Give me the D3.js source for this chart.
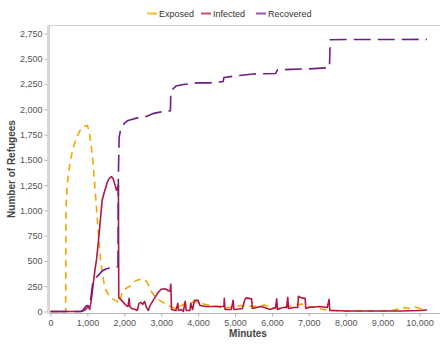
<!DOCTYPE html>
<html lang="en">
  <head>
    <meta charset="UTF-8">
    <script src="https://cdn.jsdelivr.net/npm/d3@7/dist/d3.min.js"></script>
    <title>Refugees</title>
    <style>
    body { margin: 0; background: #fff; }
    text { font-family: "Liberation Sans", Arial, sans-serif; }
    </style>
  </head>
  <body>
    <div id="chart"></div>
    <script>

// Series (minutes, refugees)
const exposedMin = [0, 300, 410, 420, 450, 520, 600, 700, 800, 900, 1000, 1050, 1100, 1150, 1200, 1250, 1300, 1350, 1400, 1450, 1500, 1600, 1700, 1800, 1850, 1900, 1950, 2050, 2150, 2250, 2350, 2450, 2550, 2620, 2700, 2800, 2900, 3000, 3100, 3200, 3300, 3400, 3500, 3600, 3700, 3800, 3900, 4000, 4200, 4400, 4600, 4700, 4800, 5000, 5200, 5400, 5600, 5800, 6000, 6200, 6400, 6600, 6800, 7000, 7200, 7400, 7600, 7800, 8000, 8500, 9000, 9300, 9500, 9600, 9700, 9800, 9900, 10000, 10200];
const exposedVal = [0, 0, 0, 1000, 1250, 1450, 1600, 1720, 1790, 1830, 1840, 1780, 1650, 1480, 1250, 1000, 760, 540, 390, 280, 210, 150, 120, 100, 80, 130, 200, 230, 250, 290, 310, 320, 315, 290, 220, 160, 120, 100, 80, 60, 40, 30, 50, 70, 80, 80, 100, 90, 70, 60, 40, 30, 40, 50, 60, 55, 50, 65, 40, 30, 50, 60, 75, 50, 40, 20, 10, 5, 5, 5, 5, 15, 30, 40, 30, 40, 45, 30, 15];

const infectedMin = [0, 850, 900, 950, 1000, 1030, 1060, 1100, 1150, 1200, 1250, 1300, 1350, 1400, 1450, 1500, 1550, 1600, 1650, 1700, 1750, 1790, 1820, 1840, 1850, 1900, 1950, 2000, 2050, 2100, 2130, 2150, 2200, 2300, 2350, 2400, 2450, 2500, 2550, 2600, 2650, 2700, 2800, 2900, 3000, 3100, 3200, 3240, 3260, 3280, 3400, 3450, 3470, 3550, 3600, 3650, 3680, 3780, 3800, 3850, 3900, 4000, 4050, 4200, 4400, 4600, 4700, 4710, 4730, 4900, 4950, 4970, 5000, 5200, 5270, 5300, 5450, 5470, 5700, 5800, 5950, 6100, 6130, 6150, 6300, 6400, 6430, 6450, 6600, 6700, 6720, 6800, 6900, 6920, 7000, 7300, 7500, 7550, 7570, 7700, 8000, 9000, 9500, 10000, 10200];
const infectedVal = [0, 0, 10, 20, 40, 50, 20, 100, 250, 400, 520, 700, 900, 1100, 1170, 1230, 1290, 1320, 1335, 1310, 1250, 1200, 1230, 1250, 140, 120, 100, 80, 60, 50, 130, 50, 30, 20, 10, 80, 90, 70, 100, 40, 10, 60, 120, 180, 220, 225, 205, 200, 270, 20, 10, 80, 10, 20, 0, 100, 10, 10, 80, 20, 110, 110, 60, 50, 50, 50, 50, 130, 20, 20, 110, 20, 20, 30, 120, 135, 125, 30, 50, 40, 20, 40, 125, 20, 40, 40, 140, 30, 40, 40, 150, 135, 130, 30, 40, 50, 40, 120, 10, 10, 5, 5, 5, 10, 15];

const recoveredMin = [0, 800, 850, 900, 950, 1000, 1050, 1100, 1150, 1200, 1300, 1400, 1500, 1600, 1800, 1830, 1840, 1860, 1900, 1950, 2000, 2100, 2200, 2400, 2600, 2800, 3000, 3250, 3260, 3400, 3600, 3800, 4000, 4300, 4600, 4680, 4700, 5000, 5500, 6100, 6150, 6500, 7000, 7560, 7580, 8000, 9000, 10200];
const recoveredVal = [0, 0, 5, 20, 50, 60, 50, 150, 300, 320, 360, 400, 420, 430, 440, 450, 1350, 1720, 1800, 1830, 1860, 1890, 1900, 1920, 1930, 1960, 1975, 1985, 2180, 2230, 2245, 2255, 2262, 2262, 2270, 2275, 2315, 2330, 2350, 2355, 2390, 2395, 2400, 2412, 2688, 2690, 2690, 2692];

const seriesNames = ["Exposed", "Infected", "Recovered"];
const yTicks = [0, 250, 500, 750, 1000, 1250, 1500, 1750, 2000, 2250, 2500, 2750];
const xTicks = [0, 1000, 2000, 3000, 4000, 5000, 6000, 7000, 8000, 9000, 10000];

const width = 440;
const height = 345;

const colour = d3.scaleOrdinal()
  .domain(seriesNames)
  .range(["#F2A600", "#B3173F", "#6E1E84"]);
const dashes = { Exposed: "7,5", Infected: null, Recovered: "17,7" };

const series = [
  { name: "Exposed",   points: d3.zip(exposedMin, exposedVal) },
  { name: "Infected",  points: d3.zip(infectedMin, infectedVal) },
  { name: "Recovered", points: d3.zip(recoveredMin, recoveredVal) }
];

// panel edges
const panel = { left: 49.5, right: 440.5, top: 25.5, bottom: 313.5 };

const x = d3.scaleLinear().domain([0, 10000]).range([50.5, 419.5]);
const y = d3.scaleLinear().domain([0, 2750]).range([311.5, 33.5]);

const svg = d3.select("#chart")
  .append("svg")
  .attr("width", width)
  .attr("height", height)
  .attr("viewBox", [0, 0, width, height]);

// Panel frame
svg.append("rect")
  .attr("x", panel.left)
  .attr("y", panel.top)
  .attr("width", panel.right - panel.left)
  .attr("height", panel.bottom - panel.top)
  .attr("fill", "none")
  .attr("stroke", "#d0d0d0");

// Axes
const yAxis = svg.append("g")
  .attr("transform", `translate(47.5,0)`)
  .call(d3.axisLeft(y).tickValues(yTicks).tickSize(3).tickPadding(2).tickFormat(d3.format(",")));
yAxis.select(".domain").attr("d", `M0.5,${panel.top}V${panel.bottom}`);

const xAxis = svg.append("g")
  .attr("transform", `translate(0,${panel.bottom})`)
  .call(d3.axisBottom(x).tickValues(xTicks).tickSize(3).tickPadding(3).tickFormat(d3.format(",")));
xAxis.select(".domain").attr("d", `M${panel.left},0H${panel.right}`);

svg.selectAll(".domain").attr("stroke", "#b5b5b5");
svg.selectAll(".tick line").attr("stroke", "#b5b5b5");
svg.selectAll(".tick text")
  .attr("fill", "#555")
  .attr("font-size", 9)
  .attr("font-family", "Liberation Sans, Arial, sans-serif");

// Axis titles
svg.append("text")
  .attr("x", 248)
  .attr("y", 337)
  .attr("text-anchor", "middle")
  .attr("font-size", 10)
  .attr("font-weight", "bold")
  .attr("fill", "#444")
  .text("Minutes");

svg.append("text")
  .attr("transform", `translate(15,169) rotate(-90)`)
  .attr("text-anchor", "middle")
  .attr("font-size", 10)
  .attr("font-weight", "bold")
  .attr("fill", "#444")
  .text("Number of Refugees");

// Lines
const line = d3.line()
  .x(d => x(d[0]))
  .y(d => y(d[1]));

svg.append("g")
  .attr("fill", "none")
  .selectAll("path")
  .data(series)
  .join("path")
  .attr("d", d => line(d.points))
  .attr("stroke", d => colour(d.name))
  .attr("stroke-width", 1.6)
  .attr("stroke-linejoin", "round")
  .attr("stroke-dasharray", d => dashes[d.name]);

// Legend
const legendX = [147, 201, 256];
const legend = svg.append("g")
  .selectAll("g")
  .data(seriesNames)
  .join("g")
  .attr("transform", (d, i) => `translate(${legendX[i]},13.5)`);

legend.append("line")
  .attr("x1", 0)
  .attr("x2", 10)
  .attr("stroke", d => colour(d))
  .attr("stroke-opacity", 0.75)
  .attr("stroke-width", 2);

legend.append("text")
  .attr("x", 12)
  .attr("dy", "0.35em")
  .attr("font-size", 9)
  .attr("fill", "#333")
  .text(d => d);

    </script>
  </body>
</html>
